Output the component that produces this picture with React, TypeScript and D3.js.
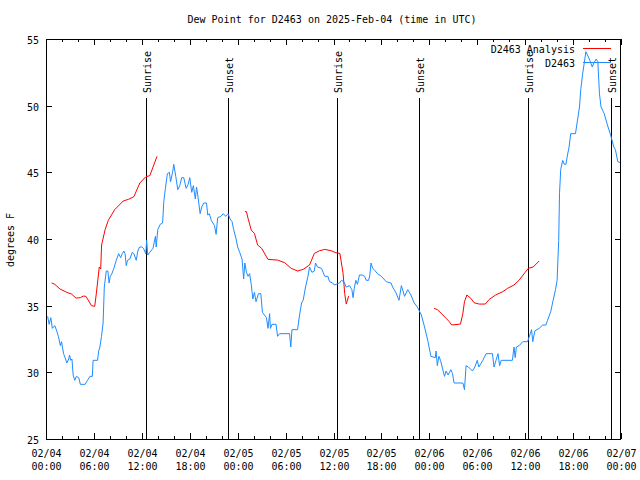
import React from "react";
import * as d3 from "d3";

// hours since 2025-02-04 00:00 UTC
const blueHours = [0.2,0.4,0.6,0.8,1.1,1.35,1.55,1.8,1.95,2.2,2.45,2.6,2.85,2.95,3.1,3.25,3.4,3.6,3.8,4.1,4.3,4.9,5.2,5.5,5.8,5.9,6.45,6.6,6.75,6.95,7.15,7.3,7.55,7.75,7.9,8.05,8.25,8.5,8.8,9.1,9.35,9.55,9.75,9.9,10.05,10.2,10.5,10.8,11.0,11.3,11.5,11.7,12.0,12.2,12.5,12.6,12.75,13.0,13.4,13.7,13.8,14.0,14.3,14.6,14.75,14.95,15.2,15.45,15.6,15.85,16.0,16.25,16.5,16.75,17.0,17.25,17.55,17.8,18.0,18.25,18.45,18.7,18.85,19.0,19.3,19.5,19.75,20.1,20.25,20.45,20.7,20.9,21.1,21.3,21.5,21.9,22.2,22.5,22.8,23.05,23.3,23.5,23.8,24.0,24.25,24.55,24.75,24.9,25.1,25.3,25.5,25.7,25.9,26.1,26.3,26.6,26.9,27.1,27.6,27.8,28.0,28.1,28.3,28.8,29.0,29.25,30.5,30.65,30.8,31.5,31.75,32.0,32.2,32.5,32.8,33.0,33.3,33.6,33.75,34.0,34.5,34.7,34.9,35.3,35.5,35.9,36.1,36.75,37.0,37.3,37.6,38.0,38.3,38.45,38.6,38.8,39.0,39.25,39.6,39.9,40.1,40.4,40.55,40.7,40.9,41.1,41.5,42.0,42.6,43.2,43.4,43.8,44.2,44.5,44.9,45.3,45.7,46.1,46.5,47.0,47.4,47.8,48.2,48.75,48.85,49.0,49.2,49.4,49.9,50.1,50.35,50.7,50.9,51.1,52.2,52.4,52.6,52.9,53.4,53.7,54.0,54.2,54.7,55.1,55.9,56.1,56.35,56.6,56.8,57.0,57.6,58.4,58.6,58.75,58.9,59.25,59.7,60.3,60.8,60.95,61.2,61.75,62.2,62.6,62.8,63.2,63.5,63.8,64.0,64.2,64.3,64.45,64.7,64.9,65.1,65.3,65.5,65.7,66.3,66.5,66.8,66.96,67.2,67.4,67.6,67.8,68.1,68.4,68.6,68.9,69.1,69.3,69.5,69.9,70.3,70.7,71.1,71.3,71.6,72.0];
const blueValues = [34.2,33.6,34.1,33.3,33.5,33.1,32.7,32.0,32.3,31.4,31.0,30.7,31.0,31.3,30.9,31.0,29.8,29.4,29.7,29.6,29.1,29.1,29.4,29.7,29.7,30.9,30.9,31.6,31.9,32.7,33.7,36.4,37.6,37.6,36.7,37.2,37.4,37.8,38.4,38.9,38.6,38.9,39.1,38.9,38.0,38.4,38.5,39.0,38.9,38.4,39.1,39.4,39.4,39.3,38.9,39.9,38.8,39.0,39.3,40.2,39.4,40.7,41.1,41.2,42.8,43.8,44.9,45.0,44.3,45.0,45.6,44.7,43.7,44.0,44.6,44.6,43.8,44.1,44.6,43.5,44.0,43.0,43.9,43.3,41.9,42.4,42.7,42.7,41.8,41.9,41.4,41.2,41.0,40.35,41.6,41.7,41.9,41.7,41.9,41.5,41.3,40.7,40.0,39.4,39.0,38.5,37.0,38.2,37.5,37.2,37.4,36.6,35.5,36.0,35.3,35.9,35.9,34.5,34.1,33.3,34.4,33.3,33.6,33.6,32.7,32.9,32.9,31.9,33.2,33.2,34.3,35.2,35.4,36.4,37.2,37.9,37.5,37.6,38.2,37.9,37.8,37.5,37.2,37.2,36.8,36.7,36.55,36.7,36.9,36.8,36.4,36.5,36.2,35.6,36.3,36.9,36.6,37.3,37.3,37.2,36.9,36.9,37.3,38.2,37.8,37.7,37.4,37.2,36.8,36.7,36.4,36.0,35.4,36.5,35.7,36.2,35.8,35.2,34.9,34.3,33.4,32.4,31.2,31.1,31.6,30.5,31.2,30.9,29.7,30.1,29.8,30.2,29.9,29.2,29.2,28.7,30.5,30.4,30.1,30.4,30.9,30.4,30.9,31.4,31.4,30.4,30.9,31.4,30.5,30.9,30.9,30.9,31.9,31.1,31.9,32.0,32.3,32.3,33.2,32.3,33.1,33.3,33.55,33.55,33.9,34.55,35.4,36.2,36.9,39.9,43.4,45.2,45.9,45.6,45.6,46.3,46.9,47.9,47.9,48.7,49.9,51.2,52.4,53.2,54.05,53.8,53.4,52.9,53.2,53.5,53.3,50.9,49.9,49.4,48.55,47.8,46.9,46.7,45.8,45.7];

// analysis series, null marks a gap
const redHours = [0.7,1.1,1.75,2.6,3.2,3.75,4.3,4.67,5.0,5.7,6.1,6.3,6.67,6.85,6.96,7.4,7.8,8.6,9.67,10.3,11.0,11.75,12.5,13.0,13.9,null,24.9,25.1,25.3,25.7,26.1,26.5,27.0,27.8,29.0,29.9,30.7,31.5,32.2,33.0,33.6,34.25,34.9,35.7,36.3,36.8,37.2,37.4,37.6,37.9,null,48.6,49.0,49.5,50.1,50.5,50.8,51.9,52.2,52.4,52.7,53.2,53.6,54.25,55.0,55.5,56.3,57.2,57.8,58.6,59.25,60.0,60.4,61.0,61.75];
const redValues = [36.7,36.6,36.25,36.0,35.87,35.57,35.6,35.72,35.7,35.0,34.95,35.9,37.9,37.75,39.55,40.7,41.4,42.2,42.85,42.97,43.17,44.2,44.67,44.75,46.2,null,42.05,42.05,41.55,40.67,40.42,39.55,39.3,38.47,38.42,38.22,37.8,37.6,37.72,38.05,38.92,39.12,39.22,39.12,38.97,38.92,37.42,35.92,35.12,35.72,null,34.8,34.7,34.42,34.05,33.8,33.55,33.62,34.42,35.3,35.8,35.55,35.22,35.12,35.12,35.47,35.8,36.05,36.3,36.55,36.92,37.5,37.8,37.9,38.35];

const sunEventHours = [12.5, 22.78, 36.4, 46.75, 60.4, 70.78];
const sunEventLabels = ["Sunrise", "Sunset", "Sunrise", "Sunset", "Sunrise", "Sunset"];

const yTicks = [25, 30, 35, 40, 45, 50, 55];
const xMajorHours = [0, 6, 12, 18, 24, 30, 36, 42, 48, 54, 60, 66, 72];

const titleText = "Dew Point for D2463 on 2025-Feb-04 (time in UTC)";
const yLabel = "degrees F";
const legendLabels = ["D2463 Analysis", "D2463"];
const BLUE = "#1e8cff";
const RED = "#ff0000";

const t0 = Date.UTC(2025, 1, 4, 0, 0);
const toDate = (h: number) => new Date(t0 + h * 3600e3);

export default function App() {
  const W = 640, H = 480;
  const left = 46, right = 621, top = 39, bottom = 439;
  const x = d3.scaleUtc().domain([toDate(0), toDate(72)]).range([left, right]);
  const y = d3.scaleLinear().domain([25, 55]).range([bottom, top]);
  const font = "'DejaVu Sans Mono', monospace";
  const fmtD = d3.utcFormat("%m/%d");
  const fmtT = d3.utcFormat("%H:%M");

  const blue = blueHours.map((h, i) => ({ t: toDate(h), v: blueValues[i] }));
  const red = redHours.map((h, i) => ({ t: h == null ? null : toDate(h), v: redValues[i] }));

  const lineB = d3.line<any>().x(d => x(d.t)).y(d => y(d.v));
  const lineR = d3.line<any>().defined(d => d.t != null && d.v != null).x(d => x(d.t)).y(d => y(d.v));

  const minorTicks = x.ticks(d3.utcHour.every(2)!);

  return (
    <svg width={W} height={H} style={{ position: "fixed", left: 0, top: 0, background: "#fff" }} fontFamily={font} fontSize={10}>
      <rect x={0} y={0} width={W} height={H} fill="#fff" />
      <text x={332} y={23} textAnchor="middle">{titleText}</text>
      <text transform={`translate(14,240) rotate(-90)`} textAnchor="middle">{yLabel}</text>

      {/* sunrise/sunset lines */}
      {sunEventHours.map((h, i) => {
        const xx = Math.round(x(toDate(h))) + 0.5;
        return (
          <g key={"s" + i}>
            <line x1={xx} x2={xx} y1={bottom} y2={98} stroke="#000" strokeWidth={1} shapeRendering="crispEdges" />
            <text transform={`translate(${xx + 4},93) rotate(-90)`} textAnchor="start">{sunEventLabels[i]}</text>
          </g>
        );
      })}

      {/* minor ticks */}
      {minorTicks.map((d, i) => {
        const xx = Math.round(x(d)) + 0.5;
        return (
          <g key={"m" + i} stroke="#000" shapeRendering="crispEdges">
            <line x1={xx} x2={xx} y1={bottom} y2={bottom - 3} />
            <line x1={xx} x2={xx} y1={top} y2={top + 3} />
          </g>
        );
      })}
      {xMajorHours.map((h, i) => {
        const d = toDate(h);
        const xx = Math.round(x(d)) + 0.5;
        return (
          <g key={"M" + i}>
            <line x1={xx} x2={xx} y1={bottom} y2={bottom - 6} stroke="#000" shapeRendering="crispEdges" />
            <line x1={xx} x2={xx} y1={top} y2={top + 6} stroke="#000" shapeRendering="crispEdges" />
            <text x={xx} y={457} textAnchor="middle">{fmtD(d)}</text>
            <text x={xx} y={470} textAnchor="middle">{fmtT(d)}</text>
          </g>
        );
      })}
      {yTicks.map((v, i) => {
        const yy = Math.round(y(v)) + 0.5;
        return (
          <g key={"y" + i}>
            <line x1={left} x2={left + 6} y1={yy} y2={yy} stroke="#000" shapeRendering="crispEdges" />
            <line x1={right - 6} x2={right} y1={yy} y2={yy} stroke="#000" shapeRendering="crispEdges" />
            <text x={39} y={yy + 4} textAnchor="end">{v}</text>
          </g>
        );
      })}

      {/* data */}
      <path d={lineR(red as any) || ""} fill="none" stroke={RED} strokeWidth={1} />
      <path d={lineB(blue) || ""} fill="none" stroke={BLUE} strokeWidth={1} />

      {/* legend */}
      <text x={575} y={53} textAnchor="end">{legendLabels[0]}</text>
      <line x1={583} x2={611} y1={48.5} y2={48.5} stroke={RED} shapeRendering="crispEdges" />
      <text x={575} y={67} textAnchor="end">{legendLabels[1]}</text>
      <line x1={583} x2={611} y1={62.5} y2={62.5} stroke={BLUE} shapeRendering="crispEdges" />

      <rect x={left + 0.5} y={top + 0.5} width={right - left - 1} height={bottom - top} fill="none" stroke="#000" shapeRendering="crispEdges" />
    </svg>
  );
}
